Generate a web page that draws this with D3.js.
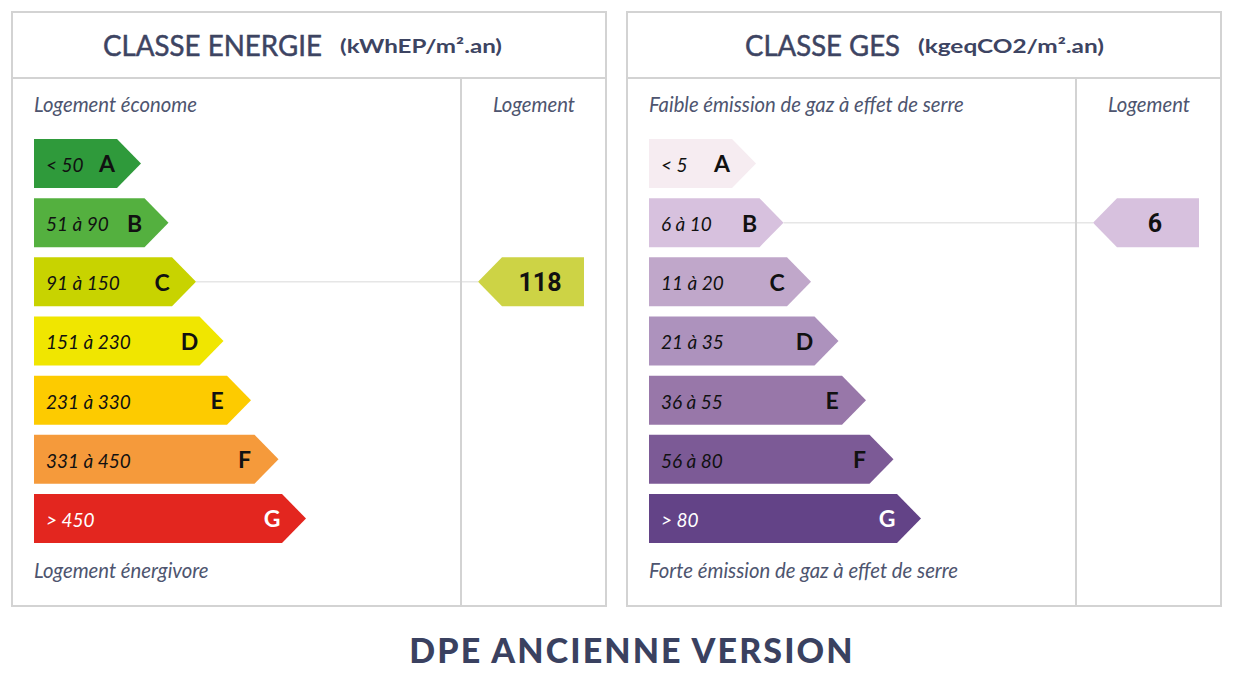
<!DOCTYPE html>
<html><head><meta charset="utf-8">
<script src="https://cdn.jsdelivr.net/npm/d3@7"></script>
<style>html,body{margin:0;padding:0;background:#fff;}svg{display:block;}</style>
</head><body>
<svg id="chart" width="1235" height="690"></svg>
<script>
// ---- data ----
const classes = ["A","B","C","D","E","F","G"];
const energyRanges = ["< 50","51 à 90","91 à 150","151 à 230","231 à 330","331 à 450","> 450"];
const energyColors = ["#2f9a3b","#54b03f","#c8d300","#f0e600","#fdcb00","#f59a3b","#e3261f"];
const gesRanges = ["< 5","6 à 10","11 à 20","21 à 35","36 à 55","56 à 80","> 80"];
const gesColors = ["#f6ecf1","#d7c1de","#c0a7ca","#ad92bd","#9877a9","#7c5a96","#634387"];
const energyValue = 118, energyClass = "C", energyIndicatorColor = "#cdd345";
const gesValue = 6, gesClass = "B", gesIndicatorColor = "#d7c1de";
const panels = [
  {title:"CLASSE ENERGIE", unit:"(kWhEP/m².an)", top:"Logement économe", bottom:"Logement énergivore",
   ranges:energyRanges, colors:energyColors, value:energyValue, cls:energyClass, indColor:energyIndicatorColor,
   tx:91, tw:219, ux:328, uw:162},
  {title:"CLASSE GES", unit:"(kgeqCO2/m².an)", top:"Faible émission de gaz à effet de serre", bottom:"Forte émission de gaz à effet de serre",
   ranges:gesRanges, colors:gesColors, value:gesValue, cls:gesClass, indColor:gesIndicatorColor,
   tx:118, tw:155, ux:291, uw:186}
];
const footer = "DPE ANCIENNE VERSION";

// ---- layout ----
const svg = d3.select("#chart");
const panelX = d3.scalePoint().domain([0,1]).range([12,627]);
const PW = 594, PH = 594, PY = 12, HEAD = 66, DIV = 449;
const y = d3.scaleBand().domain(classes).range([139,543]).paddingInner(0.172).paddingOuter(0);
const xEnd = d3.scalePoint().domain(classes).range([105,270]); // rect end offset in panel
const BX = 22, TIP = 24;
const textCol = "#3d4462", italCol = "#4e556f";

panels.forEach((p,i)=>{
  const g = svg.append("g").attr("transform",`translate(${panelX(i)},${PY})`);
  g.append("rect").attr("x",0).attr("y",0).attr("width",PW).attr("height",PH)
    .attr("fill","none").attr("stroke","#d3d3d3").attr("stroke-width",2);
  g.append("line").attr("x1",0).attr("x2",PW).attr("y1",HEAD).attr("y2",HEAD).attr("stroke","#d3d3d3").attr("stroke-width",2);
  g.append("line").attr("x1",DIV).attr("x2",DIV).attr("y1",HEAD).attr("y2",PH).attr("stroke","#d3d3d3").attr("stroke-width",2);

  // header
  g.append("text").attr("x",p.tx).attr("y",44).text(p.title)
    .attr("textLength",p.tw).attr("lengthAdjust","spacingAndGlyphs")
    .style("font-family","Lato").style("font-size","29px").style("fill",textCol)
    .style("stroke",textCol).style("stroke-width","0.5px");
  g.append("text").attr("x",p.ux).attr("y",41).text(p.unit)
    .attr("textLength",p.uw).attr("lengthAdjust","spacingAndGlyphs")
    .style("font-family","Lato").style("font-size","19px").style("font-weight","bold").style("fill",textCol);

  const itStyle = sel => sel.style("font-family","Lato").style("font-style","italic").style("font-size","20.3px").style("fill",italCol);
  itStyle(g.append("text").attr("x",BX).attr("y",100).text(p.top));
  itStyle(g.append("text").attr("x",BX).attr("y",566).text(p.bottom));
  itStyle(g.append("text").attr("x",DIV+73).attr("y",100).attr("text-anchor","middle").text("Logement"));

  // bars
  const rows = classes.map((c,k)=>({c, range:p.ranges[k], color:p.colors[k]}));
  const bars = g.selectAll("g.bar").data(rows).join("g").attr("class","bar")
    .attr("transform",d=>`translate(0,${y(d.c)-PY})`);
  const h = y.bandwidth();
  bars.append("path").attr("fill",d=>d.color)
    .attr("d",d=>{const e=xEnd(d.c);return `M${BX},0H${e}L${e+TIP},${h/2}L${e},${h}H${BX}Z`;});
  bars.append("text").attr("x",BX+12).attr("y",h/2+8.5).text(d=>d.range)
    .style("font-family","Lato").style("font-style","italic").style("font-size","19px")
    .style("fill",d=>d.c==="G"?"#fff":"#111");
  bars.append("text").attr("x",d=>xEnd(d.c)-10).attr("y",h/2+9).attr("text-anchor","middle").text(d=>d.c)
    .style("font-family","Lato").style("font-weight","bold").style("font-size","23px")
    .style("fill",d=>d.c==="G"?"#fff":"#111");

  // indicator
  const cy = y(p.cls)-PY + h/2;
  g.append("line").attr("x1",xEnd(p.cls)+TIP).attr("x2",DIV+17).attr("y1",cy).attr("y2",cy)
    .attr("stroke","#e6e6e6").attr("stroke-width",1.5);
  g.append("line").attr("x1",DIV).attr("x2",DIV).attr("y1",cy-8).attr("y2",cy+8).attr("stroke","#d3d3d3").attr("stroke-width",2);
  const ix = DIV+17;
  g.append("path").attr("fill",p.indColor)
    .attr("d",`M${ix},${cy}L${ix+TIP},${cy-h/2}H${ix+106}V${cy+h/2}H${ix+TIP}Z`);
  g.append("text").attr("x",ix+62).attr("y",cy+9).attr("text-anchor","middle").text(p.value)
    .style("font-family","Roboto").style("font-weight","bold").style("font-size","25px").style("fill","#111");
});

svg.append("text").attr("x",632).attr("y",663).attr("text-anchor","middle").text(footer)
  .style("font-family","Lato").style("font-weight","900").style("font-size","34px").attr("letter-spacing","2.1")
  .style("fill","#3a4160");
</script>
</body></html>
